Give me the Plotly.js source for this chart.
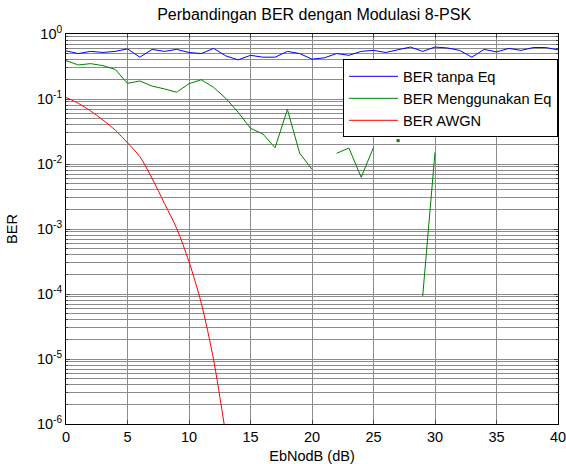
<!DOCTYPE html>
<html>
<head>
<meta charset="utf-8">
<script src="https://cdn.plot.ly/plotly-3.0.1.min.js"></script>
<style>html,body{margin:0;padding:0;background:#fff;}#chart{width:566px;height:464px;}</style>
</head>
<body>
<div id="chart"></div>
<script>
var ebno = [];
for (var i = 0; i <= 40; i++) ebno.push(i);

var berTanpaEq = [0.55,0.50,0.54,0.52,0.54,0.59,0.44,0.58,0.54,0.58,
  0.52,0.50,0.60,0.46,0.40,0.47,0.44,0.44,0.54,0.50,
  0.41,0.43,0.50,0.47,0.54,0.56,0.52,0.58,0.63,0.54,
  0.63,0.61,0.56,0.44,0.58,0.53,0.60,0.56,0.62,0.62,0.57];

var berEq = [0.389,0.334,0.350,0.326,0.286,0.174,0.189,0.158,0.143,0.127,
  0.172,0.198,0.151,0.102,0.0624,0.0354,0.029,0.0178,0.0694,0.0146,
  0.00828,null,0.0146,0.0176,0.00624,0.018,null,0.0229,null,0.000093,
  0.0151,null,null,null,null,null,null,null,null,null,null];

var ebnoAwgn = [0,1,2,3,4,5,6,7,8,9,10,11,12,13];
var berAwgn = [0.106,0.0858,0.0654,0.0475,0.0333,0.0212,0.0130,0.0060,0.00248,0.00102,
  0.000314,0.000072,0.0000097,0.00000066];

var yTickVals = [1e-6,1e-5,1e-4,1e-3,1e-2,1e-1,1];
var yTickText = ['10<sup>-6</sup>','10<sup>-5</sup>','10<sup>-4</sup>','10<sup>-3</sup>','10<sup>-2</sup>','10<sup>-1</sup>','10<sup>0</sup>'];
var xTickVals = [0,5,10,15,20,25,30,35,40];

// isolated points (no neighbours) are drawn as small dots, like MATLAB
var isoY = berEq.map(function(v, k){
  if (v === null) return null;
  var p = k > 0 ? berEq[k-1] : null;
  var n = k < berEq.length-1 ? berEq[k+1] : null;
  return (p === null && n === null) ? v : null;
});

var font = 'Liberation Sans, Arial, sans-serif';

var traces = [
  {x: ebno, y: berTanpaEq, mode: 'lines', name: 'BER tanpa Eq',
   line: {color: '#0000ff', width: 1}},
  {x: ebno, y: berEq, mode: 'lines', name: 'BER Menggunakan Eq',
   line: {color: '#008000', width: 1}, connectgaps: false},
  {x: ebnoAwgn, y: berAwgn, mode: 'lines', name: 'BER AWGN',
   line: {color: '#ff0000', width: 1, shape: 'spline', smoothing: 0.8}},
  {x: ebno, y: isoY, mode: 'markers', showlegend: false, hoverinfo: 'skip',
   marker: {color: '#008000', size: 3, symbol: 'square'}}
];

var layout = {
  width: 566, height: 464,
  margin: {l: 66, r: 8, t: 34, b: 40},
  paper_bgcolor: '#ffffff', plot_bgcolor: '#ffffff',
  font: {family: font, size: 14, color: '#000'},
  title: {text: 'Perbandingan BER dengan Modulasi 8-PSK', font: {family: font, size: 16, color: '#000'},
          x: 0.555, xanchor: 'center', y: 0.97, yanchor: 'middle'},
  showlegend: true,
  legend: {x: 0.563, xanchor: 'left', y: 0.935, yanchor: 'top', itemwidth: 49,
           bgcolor: '#ffffff', bordercolor: '#000', borderwidth: 1,
           font: {family: font, size: 14.6, color: '#000'}, tracegroupgap: 0},
  xaxis: {range: [0, 40], tickvals: xTickVals, ticks: 'inside', ticklen: 4,
          ticklabeloverflow: 'allow',
          showline: true, linecolor: '#000', linewidth: 1, mirror: 'allticks',
          showgrid: true, gridcolor: '#8c8c8c', gridwidth: 1, zeroline: false,
          tickfont: {family: font, size: 14.5, color: '#000'},
          title: {text: 'EbNodB (dB)', font: {family: font, size: 14.5, color: '#000'}, standoff: 7}},
  yaxis: {type: 'log', range: [-6, 0], tickvals: yTickVals, ticktext: yTickText,
          ticks: 'inside', ticklen: 4, ticklabeloverflow: 'allow',
          showline: true, linecolor: '#000', linewidth: 1, mirror: 'allticks',
          showgrid: true, gridcolor: '#8c8c8c', gridwidth: 1, zeroline: false,
          minor: {dtick: 'D1', showgrid: true, gridcolor: '#8c8c8c', gridwidth: 1, ticks: 'inside', ticklen: 2},
          tickfont: {family: font, size: 14.5, color: '#000'},
          title: {text: 'BER', font: {family: font, size: 14.5, color: '#000'}, standoff: 15}}
};

Plotly.newPlot('chart', traces, layout, {displayModeBar: false, staticPlot: true});
</script>
</body>
</html>
